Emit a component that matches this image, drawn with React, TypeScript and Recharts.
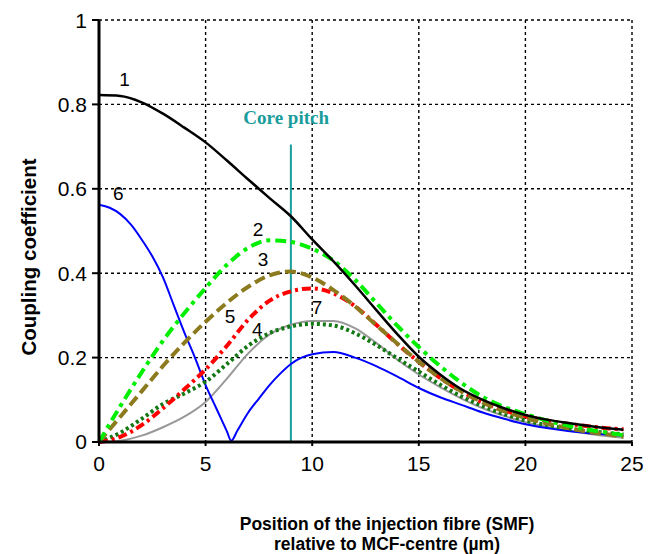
import React from "react";
import {
  LineChart,
  Line,
  XAxis,
  YAxis,
  CartesianGrid,
  ReferenceLine,
  ReferenceDot,
  Label,
} from "recharts";

const xs = [0, 1, 2, 3, 4, 5, 6, 7, 8, 9, 10, 11, 12, 13, 14, 15, 16, 17, 18, 19, 20, 21, 22, 23, 24, 24.6];

const curve1 = [0.822, 0.82, 0.805, 0.778, 0.745, 0.71, 0.667, 0.622, 0.578, 0.535, 0.48, 0.428, 0.372, 0.313, 0.255, 0.202, 0.16, 0.125, 0.1, 0.08, 0.064, 0.053, 0.045, 0.038, 0.032, 0.029];
const curve2 = [0, 0.085, 0.165, 0.24, 0.305, 0.365, 0.42, 0.46, 0.478, 0.474, 0.458, 0.43, 0.385, 0.33, 0.275, 0.225, 0.18, 0.14, 0.107, 0.083, 0.066, 0.051, 0.039, 0.029, 0.021, 0.016];
const curve3 = [0, 0.06, 0.12, 0.18, 0.235, 0.285, 0.33, 0.368, 0.395, 0.404, 0.39, 0.36, 0.322, 0.277, 0.233, 0.19, 0.152, 0.12, 0.094, 0.073, 0.057, 0.044, 0.033, 0.024, 0.017, 0.012];
const curve4 = [0, 0.022, 0.055, 0.09, 0.115, 0.143, 0.185, 0.228, 0.258, 0.274, 0.28, 0.276, 0.258, 0.23, 0.198, 0.167, 0.136, 0.108, 0.085, 0.066, 0.051, 0.04, 0.032, 0.026, 0.021, 0.018];
const curve5 = [0, 0.012, 0.04, 0.08, 0.125, 0.172, 0.228, 0.29, 0.335, 0.357, 0.364, 0.352, 0.322, 0.278, 0.232, 0.19, 0.152, 0.12, 0.094, 0.075, 0.061, 0.051, 0.043, 0.037, 0.032, 0.03];
const curve7 = [0, 0.003, 0.015, 0.035, 0.06, 0.095, 0.15, 0.21, 0.255, 0.278, 0.287, 0.287, 0.27, 0.235, 0.195, 0.16, 0.13, 0.103, 0.08, 0.062, 0.047, 0.036, 0.027, 0.019, 0.013, 0.01];

// curve 6 has a sharp minimum near 6.2, so it gets its own x values
const xs6 = [0, 0.5, 1, 1.5, 2, 2.5, 3, 3.5, 4, 4.5, 5, 5.5, 6, 6.2, 6.5, 7, 7.5, 8, 8.5, 9, 9.5, 10, 11, 12, 13, 14, 15, 16, 17, 18, 19, 20, 21, 22, 23, 24, 24.6];
const curve6 = [0.562, 0.555, 0.54, 0.515, 0.48, 0.44, 0.39, 0.325, 0.26, 0.2, 0.135, 0.08, 0.025, 0.003, 0.028, 0.07, 0.103, 0.135, 0.162, 0.185, 0.2, 0.208, 0.213, 0.2, 0.18, 0.155, 0.128, 0.106, 0.088, 0.07, 0.055, 0.042, 0.033, 0.026, 0.021, 0.017, 0.015];

const xTicks = [0, 5, 10, 15, 20, 25];
const yTicks = [0, 0.2, 0.4, 0.6, 0.8, 1];

const corePitch = 9;

// curve number labels, in data coordinates
const curveLabels = [
  { name: "1", x: 1.2, y: 0.86 },
  { name: "6", x: 0.9, y: 0.59 },
  { name: "2", x: 7.46, y: 0.503 },
  { name: "3", x: 7.7, y: 0.432 },
  { name: "5", x: 6.15, y: 0.299 },
  { name: "4", x: 7.42, y: 0.268 },
  { name: "7", x: 10.23, y: 0.32 },
];

const mk = (x: number[], y: number[]) => x.map((v, i) => ({ x: v, y: y[i] }));

const FONT = "Arial, 'Liberation Sans', sans-serif";

export default function App() {
  return (
    <LineChart
      width={640}
      height={546}
      margin={{ top: 12, right: 16, bottom: 82, left: 31 }}
    >
      <CartesianGrid stroke="#000" strokeDasharray="3 3" strokeWidth={1.4} />
      <XAxis
        dataKey="x"
        type="number"
        domain={[0, 25]}
        ticks={xTicks}
        height={30}
        tickSize={4}
        tickMargin={10}
        stroke="#000"
        axisLine={{ strokeWidth: 3 }}
        tickLine={{ strokeWidth: 2 }}
        tick={{ fill: "#000", fontSize: 21, fontFamily: FONT }}
        allowDataOverflow
      >
        <Label
          content={() => (
            <text fontFamily={FONT} fontWeight="bold" fontSize={17.5} fill="#000" textAnchor="middle">
              <tspan x={379} y={522}>Position of the injection fibre (SMF)</tspan>
              <tspan x={379} y={541.5}>relative to MCF-centre (µm)</tspan>
            </text>
          )}
        />
      </XAxis>
      <XAxis
        xAxisId="top"
        orientation="top"
        type="number"
        domain={[0, 25]}
        ticks={xTicks}
        height={0}
        tickSize={4}
        stroke="#000"
        axisLine={{ strokeWidth: 2.5 }}
        tickLine={{ strokeWidth: 2 }}
        tickFormatter={() => ""}
      />
      <YAxis
        type="number"
        domain={[0, 1]}
        ticks={yTicks}
        width={60}
        tickSize={7}
        tickMargin={5}
        stroke="#000"
        axisLine={{ strokeWidth: 3 }}
        tickLine={{ strokeWidth: 2 }}
        tick={{ fill: "#000", fontSize: 21, fontFamily: FONT }}
        tickFormatter={(v: number) => String(v)}
      >
        <Label
          content={() => (
            <text
              x={20}
              y={249}
              transform="rotate(-90 20 249)"
              textAnchor="middle"
              dominantBaseline="central"
              fontFamily={FONT}
              fontWeight="bold"
              fontSize={20.5}
              fill="#000"
            >
              Coupling coefficient
            </text>
          )}
        />
      </YAxis>
      <YAxis
        yAxisId="right"
        orientation="right"
        type="number"
        domain={[0, 1]}
        ticks={yTicks}
        width={0}
        tickSize={5}
        stroke="#000"
        axisLine={{ strokeWidth: 3 }}
        tickLine={{ strokeWidth: 2 }}
        tickFormatter={() => ""}
      />

      <ReferenceLine
        segment={[
          { x: corePitch, y: 0 },
          { x: corePitch, y: 0.705 },
        ]}
        stroke="#1a9c9c"
        strokeWidth={2}
      />
      <ReferenceDot x={8.78} y={0.769} r={0} fill="none" stroke="none">
        <Label
          value="Core pitch"
          position="center"
          fill="#1a9c9c"
          fontSize={19}
          fontWeight="bold"
          fontFamily="'Liberation Serif', 'Times New Roman', serif"
        />
      </ReferenceDot>

      <Line data={mk(xs, curve7)} dataKey="y" type="monotone" stroke="#999999" strokeWidth={2} dot={false} isAnimationActive={false} />
      <Line data={mk(xs6, curve6)} dataKey="y" type="monotone" stroke="#0000ff" strokeWidth={2} dot={false} isAnimationActive={false} />
      <Line data={mk(xs, curve4)} dataKey="y" type="monotone" stroke="#137813" strokeWidth={4} strokeDasharray="3 3" dot={false} isAnimationActive={false} />
      <Line data={mk(xs, curve5)} dataKey="y" type="monotone" stroke="#ff0000" strokeWidth={4} strokeDasharray="9 4 3 4" dot={false} isAnimationActive={false} />
      <Line data={mk(xs, curve3)} dataKey="y" type="monotone" stroke="#8c7a1e" strokeWidth={4} strokeDasharray="11 5" dot={false} isAnimationActive={false} />
      <Line data={mk(xs, curve2)} dataKey="y" type="monotone" stroke="#00ee00" strokeWidth={4} strokeDasharray="11 5 4 5" dot={false} isAnimationActive={false} />
      <Line data={mk(xs, curve1)} dataKey="y" type="monotone" stroke="#000000" strokeWidth={2.5} dot={false} isAnimationActive={false} />

      {curveLabels.map((c) => (
        <ReferenceDot key={c.name} x={c.x} y={c.y} r={0} fill="none" stroke="none">
          <Label value={c.name} position="center" fill="#000" fontSize={19} fontFamily={FONT} />
        </ReferenceDot>
      ))}
    </LineChart>
  );
}
